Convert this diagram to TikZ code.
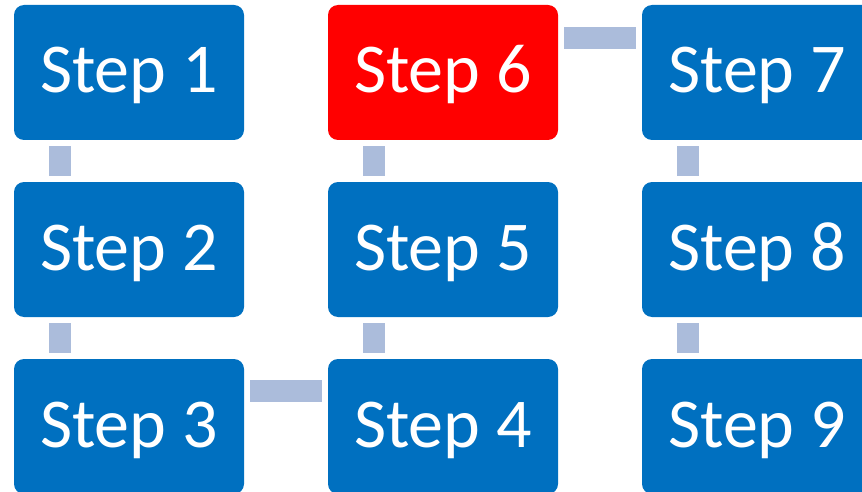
\documentclass[tikz,border=0pt]{standalone}
\usepackage{fontspec}
\setmainfont{Carlito}
\definecolor{boxblue}{HTML}{0070C0}
\definecolor{boxred}{HTML}{FF0000}
\definecolor{linkc}{HTML}{ABBCDB}
\begin{document}
\begin{tikzpicture}[x=1pt,y=-1pt,
  stepbox/.style={fill=boxblue,draw=none,rounded corners=10pt,minimum width=230pt,minimum height=135pt,
    inner sep=0pt,text=white,font=\fontsize{70}{84}\selectfont,text height=55pt,text depth=14pt},
  redbox/.style={stepbox,fill=boxred},
  link/.style={draw=linkc,line width=22pt,shorten <=6pt,shorten >=6pt}]
\useasboundingbox (0,0) rectangle (862,492);
\node[stepbox] (s1) at (129,72.5) {Step 1};
\node[stepbox] (s2) at (129,249.5) {Step 2};
\node[stepbox] (s3) at (129,426.5) {Step 3};
\node[stepbox] (s4) at (443,426.5) {Step 4};
\node[stepbox] (s5) at (443,249.5) {Step 5};
\node[redbox] (s6) at (443,72.5) {Step 6};
\node[stepbox] (s7) at (757,72.5) {Step 7};
\node[stepbox] (s8) at (757,249.5) {Step 8};
\node[stepbox] (s9) at (757,426.5) {Step 9};
\draw[link] ([xshift=46pt]s1.south west) -- ([xshift=46pt]s2.north west);
\draw[link] ([xshift=46pt]s2.south west) -- ([xshift=46pt]s3.north west);
\draw[link] ([yshift=-32pt]s3.north east) -- ([yshift=-32pt]s4.north west);
\draw[link] ([xshift=46pt]s4.north west) -- ([xshift=46pt]s5.south west);
\draw[link] ([xshift=46pt]s5.north west) -- ([xshift=46pt]s6.south west);
\draw[link] ([yshift=-33pt]s6.north east) -- ([yshift=-33pt]s7.north west);
\draw[link] ([xshift=46pt]s7.south west) -- ([xshift=46pt]s8.north west);
\draw[link] ([xshift=46pt]s8.south west) -- ([xshift=46pt]s9.north west);
\end{tikzpicture}
\end{document}
